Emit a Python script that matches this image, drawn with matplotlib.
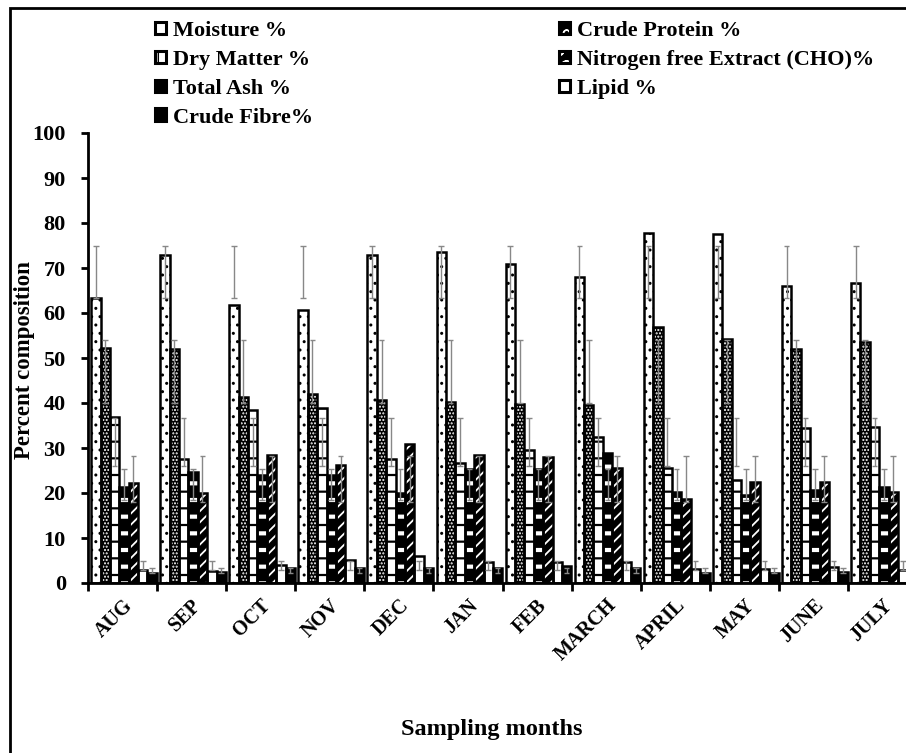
import numpy as np
import matplotlib
matplotlib.use('agg')
import matplotlib.pyplot as plt
from matplotlib.patches import Patch, Rectangle

plt.rcParams['font.family'] = 'Liberation Serif'
plt.rcParams['font.weight'] = 'bold'
plt.rcParams['hatch.linewidth'] = 1.0

months = ['AUG', 'SEP', 'OCT', 'NOV', 'DEC', 'JAN', 'FEB', 'MARCH', 'APRIL', 'MAY', 'JUNE', 'JULY']

moisture = [63.3, 72.9, 61.8, 60.7, 72.9, 73.6, 71.0, 68.0, 77.8, 77.5, 66.0, 66.6]
protein = [52.3, 52.1, 41.4, 42.0, 40.7, 40.3, 39.8, 39.5, 57.0, 54.3, 52.1, 53.6]
dry_matter = [37.0, 27.5, 38.4, 39.0, 27.5, 26.7, 29.6, 32.4, 25.5, 22.9, 34.4, 34.7]
nfe = [21.4, 24.7, 24.0, 24.0, 19.9, 25.3, 25.3, 28.8, 20.3, 19.6, 20.7, 21.4]
total_ash = [22.2, 19.9, 28.4, 26.2, 31.0, 28.4, 28.0, 25.5, 18.6, 22.5, 22.4, 20.3]
lipid = [3.0, 2.7, 4.0, 5.1, 6.0, 4.7, 4.7, 4.7, 3.1, 3.1, 3.6, 3.0]
fibre = [2.3, 2.5, 3.3, 3.3, 3.3, 3.3, 3.8, 3.3, 2.2, 2.2, 2.5, 2.2]

# range bars (low, high) for each component
err_lo = [63.3, 40.0, 26.0, 18.5, 18.0, 2.8, 2.2]
err_hi = [75.0, 54.0, 36.7, 25.4, 28.2, 4.8, 3.3]

labels = ['Moisture %', 'Crude Protein %', 'Dry Matter %',
          'Nitrogen free Extract (CHO)%', 'Total Ash %', 'Lipid %', 'Crude Fibre%']
series = [moisture, protein, dry_matter, nfe, total_ash, lipid, fibre]

# face, hatch, hatch colour, hatch width
styles = [('white', '..', 'black', 1.0),
          ('black', '.....', 'white', 1.0),
          ('white', '-', 'black', 1.6),
          ('white', '-', 'black', 9.0),
          ('black', '///', 'white', 1.3),
          ('white', '', 'black', 1.0),
          ('black', '', 'black', 1.0)]
# legend swatches
swatch = [('white', '', 'black'),
          ('black', 'o', 'white'),
          ('white', '|', 'black'),
          ('black', 'O', 'white'),
          ('black', '/', 'white'),
          ('white', '', 'black'),
          ('black', '', 'black')]


def set_hw(p, lw):
    if hasattr(p, 'set_hatch_linewidth'):
        p.set_hatch_linewidth(lw)


fig = plt.figure(figsize=(9.06, 7.53), dpi=100)
ax = fig.add_axes([88 / 906, 170 / 753, 829 / 906, 450 / 753])

w = 0.136
idx = np.arange(len(months))
handles = []
for j, vals in enumerate(series):
    x = idx + 0.045 + w * (j + 0.5)
    fc, h, hc, hw = styles[j]
    bars = ax.bar(x, vals, w, color=fc, edgecolor=hc, hatch=h, linewidth=0, zorder=2)
    for b in bars:
        set_hw(b, hw)
    ax.bar(x, vals, w, fill=False, edgecolor='black', linewidth=1.8, zorder=3)
    ax.vlines(x, err_lo[j], err_hi[j], color='#888888', linewidth=1, zorder=4)
    ax.hlines([err_lo[j]] * len(x), x - w * 0.3, x + w * 0.3, color='#888888', linewidth=1, zorder=4)
    ax.hlines([err_hi[j]] * len(x), x - w * 0.3, x + w * 0.3, color='#888888', linewidth=1, zorder=4)
    sf, sh, sc = swatch[j]
    handles.append((Patch(facecolor=sf, edgecolor=sc, hatch=sh, linewidth=0),
                    Patch(fill=False, edgecolor='black', linewidth=2.2)))

ax.set_xlim(0, 12)
ax.set_ylim(0, 100)
ax.set_yticks(range(0, 101, 10))
ax.set_xticks(range(0, 13))
ax.set_xticklabels([])
ax.set_xticks(idx + 0.5, minor=True)
ax.set_xticklabels(months, minor=True, rotation=45, ha='right', rotation_mode='anchor',
                   fontsize=14.5, fontweight='bold')
ax.tick_params(axis='x', which='minor', length=0, pad=9)
ax.tick_params(axis='x', which='major', length=6, width=2, direction='out')
ax.tick_params(axis='y', length=5, width=2, direction='out', labelsize=16, pad=11)
for s in ['top', 'right']:
    ax.spines[s].set_visible(False)
for s in ['left', 'bottom']:
    ax.spines[s].set_linewidth(2)

fig.text(25 / 906, 1 - 360 / 753, 'Percent composition', fontsize=16.5, fontweight='bold',
         rotation=90, ha='center', va='center')
fig.text(492 / 906, 1 - 730 / 753, 'Sampling months', fontsize=17.5, fontweight='bold',
         ha='center', va='center')

leg_kw = dict(frameon=False, fontsize=16, handlelength=0.5, handleheight=0.5,
              handletextpad=0.3, labelspacing=0.4, borderaxespad=0, borderpad=0)
order1 = [0, 2, 4, 6]
order2 = [1, 3, 5]
fig.legend([handles[k] for k in order1], [labels[k] for k in order1],
           loc='upper left', bbox_to_anchor=(155 / 906, 1 - 21 / 753), **leg_kw)
fig.legend([handles[k] for k in order2], [labels[k] for k in order2],
           loc='upper left', bbox_to_anchor=(559 / 906, 1 - 21 / 753), **leg_kw)

fig.add_artist(Rectangle((10 / 906, -0.05), 1.0, 1 - 8 / 753 + 0.05, transform=fig.transFigure,
                         fill=False, edgecolor='black', linewidth=2))

fig.savefig('out.png', dpi=100)
